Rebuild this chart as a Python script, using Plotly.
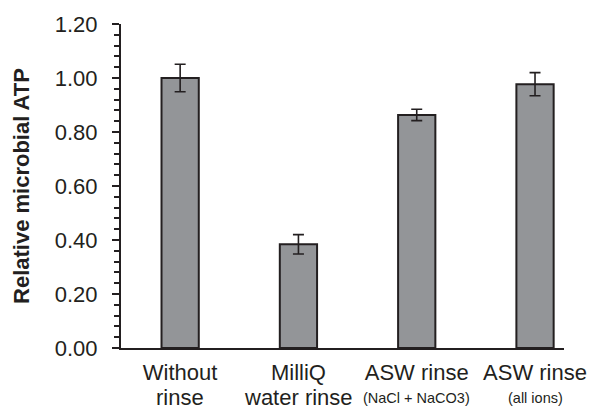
import plotly.graph_objects as go

categories = ["Without", "MilliQ", "ASW rinse", "ASW rinse"]
subtitles = ["rinse", "water rinse", "(NaCl + NaCO3)", "(all ions)"]
subtitle_sizes = [22, 22, 14.5, 14.5]
values = [1.00, 0.384, 0.863, 0.977]
errors = [0.051, 0.036, 0.021, 0.043]
y_ticks = [0, 0.2, 0.4, 0.6, 0.8, 1.0, 1.2]
y_tick_labels = ["0.00", "0.20", "0.40", "0.60", "0.80", "1.00", "1.20"]

dark = "#231f20"
font_family = "Liberation Sans, Arial, sans-serif"
xs = list(range(len(categories)))

fig = go.Figure(go.Bar(
    x=xs, y=values,
    marker=dict(color="#939598", line=dict(color=dark, width=2)),
    error_y=dict(type="data", array=errors, visible=True, color=dark, thickness=1.6, width=5.5),
    width=0.315,
))
# page body has an 8px margin: compensate so the plot area sits where the reference has it
fig.update_layout(
    width=601, height=401,
    margin=dict(l=113, r=45, t=16, b=61),
    paper_bgcolor="white", plot_bgcolor="white",
    font=dict(family=font_family, color=dark, size=22),
    showlegend=False,
)
fig.update_xaxes(
    range=[-0.5, 3.245], tickmode="array", tickvals=xs,
    ticktext=categories, showline=True, linecolor=dark, linewidth=2,
    ticks="", showgrid=False, zeroline=False, automargin=False,
    tickfont=dict(size=22, color=dark), ticklabelstandoff=4,
)
fig.update_yaxes(
    range=[0, 1.2], tickmode="array", tickvals=y_ticks, ticktext=y_tick_labels,
    showline=True, linecolor=dark, linewidth=2, ticks="outside", ticklen=7,
    tickwidth=2, tickcolor=dark, showgrid=False, zeroline=False, automargin=False,
    minor=dict(dtick=0.04, ticks="outside", ticklen=5, tickwidth=1.5, tickcolor=dark, showgrid=False),
    tickfont=dict(size=22, color=dark), ticklabelstandoff=10,
    title=dict(text="<b>Relative microbial ATP</b>", font=dict(size=22, color=dark), standoff=19),
)
for x, t, s in zip(xs, subtitles, subtitle_sizes):
    fig.add_annotation(
        x=x, xref="x", y=0, yref="paper", text=t, showarrow=False,
        yanchor="top", yshift=-35 if s >= 20 else -40,
        font=dict(size=s, color=dark, family=font_family),
    )
fig.write_html("out.html")
